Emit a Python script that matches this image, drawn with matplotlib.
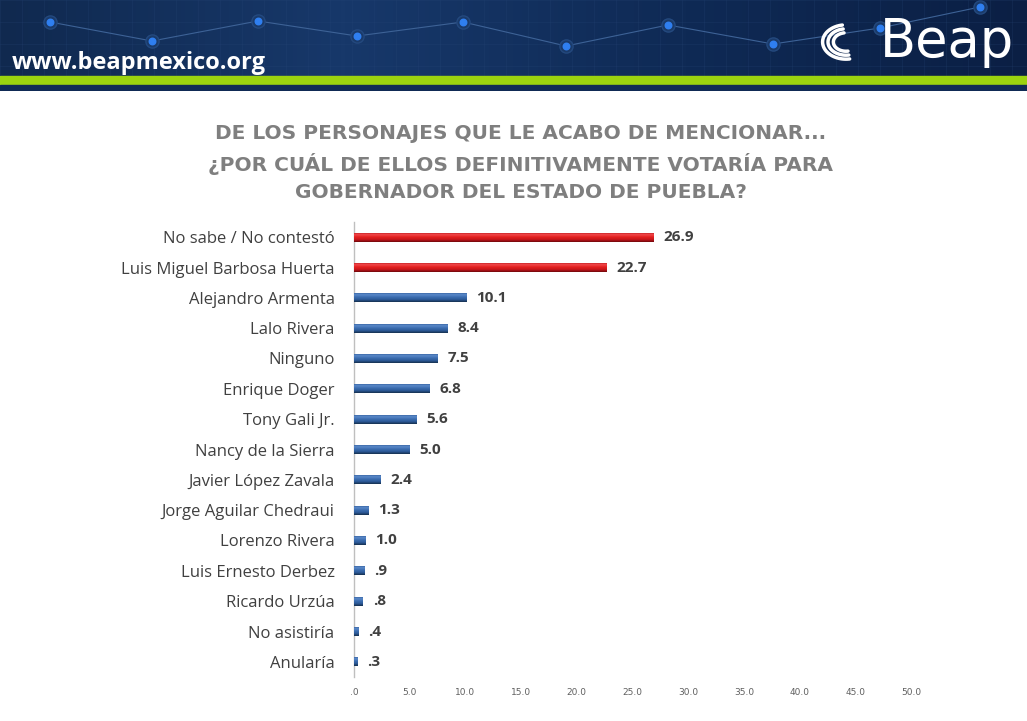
import numpy as np
import matplotlib.pyplot as plt
from matplotlib.colors import LinearSegmentedColormap

categories = ["No sabe / No contestó", "Luis Miguel Barbosa Huerta", "Alejandro Armenta",
              "Lalo Rivera", "Ninguno", "Enrique Doger", "Tony Gali Jr.",
              "Nancy de la Sierra", "Javier López Zavala", "Jorge Aguilar Chedraui",
              "Lorenzo Rivera", "Luis Ernesto Derbez", "Ricardo Urzúa",
              "No asistiría", "Anularía"]
values = [26.9, 22.7, 10.1, 8.4, 7.5, 6.8, 5.6, 5.0, 2.4, 1.3, 1.0, 0.9, 0.8, 0.4, 0.3]
value_labels = ["26.9", "22.7", "10.1", "8.4", "7.5", "6.8", "5.6", "5.0", "2.4",
                "1.3", "1.0", ".9", ".8", ".4", ".3"]
highlight = [True, True] + [False] * 13
xticks = [0, 5, 10, 15, 20, 25, 30, 35, 40, 45, 50]
xtick_labels = [".0", "5.0", "10.0", "15.0", "20.0", "25.0", "30.0", "35.0", "40.0", "45.0", "50.0"]
title = ("DE LOS PERSONAJES QUE LE ACABO DE MENCIONAR...\n"
         "¿POR CUÁL DE ELLOS DEFINITIVAMENTE VOTARÍA PARA\n"
         "GOBERNADOR DEL ESTADO DE PUEBLA?")

W, H = 1027, 721
fig = plt.figure(figsize=(W / 100, H / 100), dpi=100)
fig.patch.set_facecolor("white")

# header banner
hdr = fig.add_axes([0, 1 - 91 / H, 1, 91 / H])
hdr.set_xlim(0, W)
hdr.set_ylim(91, 0)
hdr.axis("off")
grad = np.linspace(0, 1, 256).reshape(1, -1)
navy = LinearSegmentedColormap.from_list("navy", ["#10294f", "#17386a", "#0f2a55", "#0b1f44"])
hdr.imshow(grad, cmap=navy, extent=[0, W, 76, 0], aspect="auto", zorder=0)
for gx in range(0, W, 22):
    hdr.plot([gx, gx], [0, 76], color="#2a4a7a", lw=0.4, alpha=0.35, zorder=1)
for gy in range(0, 76, 22):
    hdr.plot([0, W], [gy, gy], color="#2a4a7a", lw=0.4, alpha=0.35, zorder=1)
dots_x = [50, 152, 258, 357, 463, 566, 668, 773, 880, 980]
dots_y = [22, 41, 21, 36, 22, 46, 25, 44, 28, 7]
hdr.plot(dots_x, dots_y, color="#3d6296", lw=0.8, zorder=2)
hdr.scatter(dots_x, dots_y, s=90, color="#1a3a6a", edgecolors="#24497e", zorder=3)
hdr.scatter(dots_x, dots_y, s=22, color="#2f7ff0", zorder=4)
hdr.add_patch(plt.Rectangle((0, 76), W, 9, color="#9bd30f", zorder=5))
hdr.add_patch(plt.Rectangle((0, 85), W, 6, color="#0f2a55", zorder=5))
hdr.text(12, 63, "www.beapmexico.org", color="white", fontsize=17, fontweight="bold",
         family="Open Sans", va="center", ha="left", zorder=6)
hdr.text(1014, 42, "Beap", color="white", fontsize=38, family="DejaVu Sans",
         va="center", ha="right", zorder=6)
for r in [26, 20, 14]:
    th = np.linspace(np.pi * 0.55, np.pi * 1.55, 40)
    hdr.plot(846 + r * np.cos(th) * 0.9, 42 - r * np.sin(th) * 0.66,
             color="white", lw=2.5, solid_capstyle="round", zorder=6)

# title
fig.text(0.507, 1 - 163 / H, title, ha="center", va="center", fontsize=14.5,
         fontweight="bold", color="#7f7f7f", family="DejaVu Sans", linespacing=1.55)

# chart
left, right = 354 / W, 911 / W
top, bottom = 222 / H, 677 / H
ax = fig.add_axes([left, 1 - bottom, right - left, bottom - top])
y = np.arange(len(categories))
colors = ["#e0161c" if h else "#2f5c99" for h in highlight]
bars = ax.barh(y, values, height=0.3, color=colors, zorder=2)

red_cm = LinearSegmentedColormap.from_list(
    "r", ["#b01015", "#f2484b", "#e2201f", "#c8161b", "#6e080b"])
blue_cm = LinearSegmentedColormap.from_list(
    "b", ["#2a5592", "#5a89c9", "#3c6db0", "#2c5a98", "#16304f"])
vgrad = np.linspace(0, 1, 64).reshape(-1, 1)
for b, h in zip(bars, highlight):
    x0, y0 = b.get_x(), b.get_y()
    w, hh = b.get_width(), b.get_height()
    im = ax.imshow(vgrad, cmap=red_cm if h else blue_cm, aspect="auto",
                   extent=[x0, x0 + w, y0 + hh, y0], zorder=3)
    im.set_clip_path(b)

for yi, v, lab in zip(y, values, value_labels):
    ax.text(v + 0.9, yi, lab, va="center", ha="left", fontsize=11,
            fontweight="bold", color="#404040", family="Open Sans")

ax.set_xlim(0, 50)
ax.set_ylim(len(categories) - 0.5, -0.5)
ax.set_yticks(y)
ax.set_yticklabels(categories, fontsize=12, color="#404040", family="Open Sans")
ax.set_xticks(xticks)
ax.set_xticklabels(xtick_labels, fontsize=6.5, color="#606060")
ax.tick_params(axis="both", length=0)
ax.tick_params(axis="y", pad=14)
ax.tick_params(axis="x", pad=8)
for s in ["top", "right", "bottom"]:
    ax.spines[s].set_visible(False)
ax.spines["left"].set_color("#bfbfbf")
ax.spines["left"].set_linewidth(1)

fig.savefig("out.png", dpi=100)
